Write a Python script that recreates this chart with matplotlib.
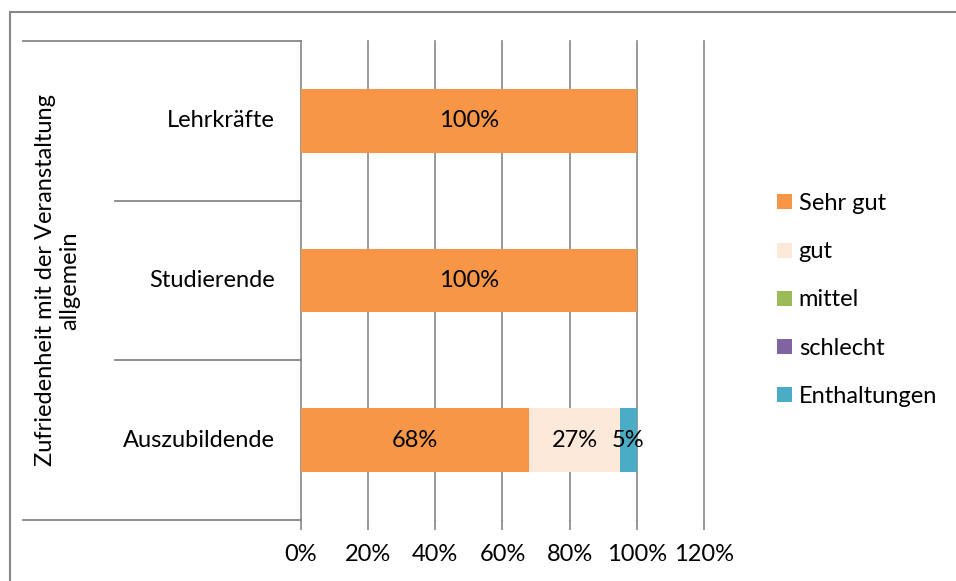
import numpy as np
import matplotlib.pyplot as plt
from matplotlib.lines import Line2D
from matplotlib.patches import Rectangle

plt.rcParams['font.family'] = ['Lato', 'DejaVu Sans']
FS = 17

groups = ['Auszubildende', 'Studierende', 'Lehrkräfte']
series = ['Sehr gut', 'gut', 'mittel', 'schlecht', 'Enthaltungen']
colors = ['#F79646', '#FDE9D9', '#9BBB59', '#8064A2', '#4BACC6']
values = {
    'Sehr gut':     [0.68, 1.00, 1.00],
    'gut':          [0.27, 0.00, 0.00],
    'mittel':       [0.00, 0.00, 0.00],
    'schlecht':     [0.00, 0.00, 0.00],
    'Enthaltungen': [0.05, 0.00, 0.00],
}
xticks = [0, 0.2, 0.4, 0.6, 0.8, 1.0, 1.2]
axis_title = 'Zufriedenheit mit der Veranstaltung\nallgemein'

W, H = 956, 581
fig = plt.figure(figsize=(W / 100, H / 100), dpi=100)
ax = fig.add_axes([301 / W, 1 - 520 / H, 403 / W, 479 / H])

grid_c = '#868686'
y = np.arange(len(groups))
left = np.zeros(len(groups))
for name, col in zip(series, colors):
    v = np.array(values[name])
    ax.barh(y, v, left=left, height=0.4, color=col, label=name, zorder=3)
    for yi, li, vi in zip(y, left, v):
        if vi > 0:
            ax.text(li + vi / 2, yi, f'{vi:.0%}', ha='center', va='center',
                    fontsize=FS, zorder=4)
    left += v

ax.set_xlim(0, 1.2)
ax.set_ylim(-0.5, len(groups) - 0.5)
ax.set_xticks(xticks)
ax.set_xticklabels([f'{t:.0%}' for t in xticks], fontsize=FS)
ax.set_yticks([])
ax.tick_params(axis='x', length=7, width=1.2, color=grid_c, pad=10)
for s in ax.spines.values():
    s.set_visible(False)
ax.grid(axis='x', color=grid_c, linewidth=1.2, zorder=0)
for gl in ax.get_xgridlines():
    gl.set_clip_on(False)
ax.set_axisbelow(True)

# category table on the left
tr = ax.get_yaxis_transform()
x_out = (23 - 301) / 403
x_in = (115 - 301) / 403
for yy in [-0.5, len(groups) - 0.5]:
    ax.add_line(Line2D([x_out, 0], [yy, yy], transform=tr, color=grid_c,
                       linewidth=1.3, clip_on=False))
for yy in y[:-1] + 0.5:
    ax.add_line(Line2D([x_in, 0], [yy, yy], transform=tr, color=grid_c,
                       linewidth=1.3, clip_on=False))
for yi, g in zip(y, groups):
    ax.text((275 - 301) / 403, yi, g, transform=tr, ha='right', va='center',
            fontsize=FS)
ax.text((58 - 301) / 403, (len(groups) - 1) / 2, axis_title, transform=tr,
        rotation=90, ha='center', va='center', fontsize=FS, linespacing=1.2)

fig.legend(loc='center left', bbox_to_anchor=(768 / W, 1 - 300 / H),
           frameon=False, fontsize=FS, handlelength=0.6, handleheight=0.6,
           handletextpad=0.3, labelspacing=1.15, borderaxespad=0)

# chart frame
fig.add_artist(Rectangle((10 / W, -0.1), 1.1, 1 - 12 / H + 0.1,
                         transform=fig.transFigure, fill=False,
                         edgecolor=grid_c, linewidth=1.5))

fig.savefig('out.png', dpi=100)
